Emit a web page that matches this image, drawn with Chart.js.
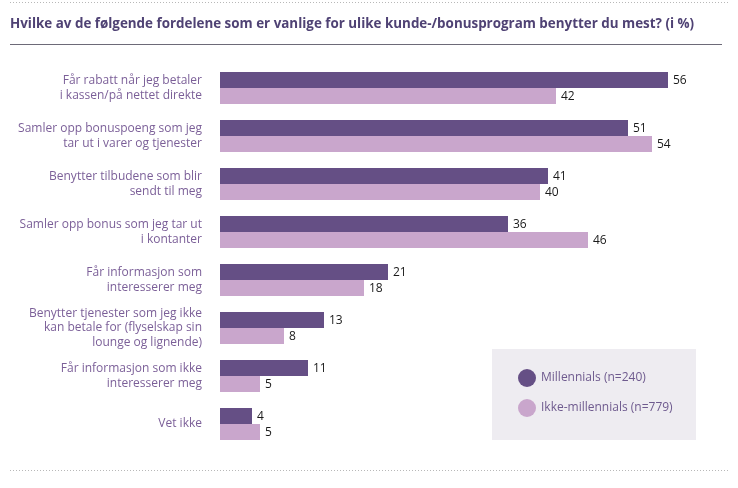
<!DOCTYPE html>
<html>
<head>
<meta charset="utf-8">
<script src="https://cdn.jsdelivr.net/npm/chart.js@4.4.0/dist/chart.umd.min.js"></script>
<style>
  html, body { margin: 0; padding: 0; background: #fff; }
  #wrap { position: relative; width: 738px; height: 488px; }
</style>
</head>
<body>
<div id="wrap"><canvas id="chart" width="738" height="488"></canvas></div>
<script>
// Data
const categories = [
    ['Får rabatt når jeg betaler', 'i kassen/på nettet direkte'],
    ['Samler opp bonuspoeng som jeg', 'tar ut i varer og tjenester'],
    ['Benytter tilbudene som blir', 'sendt til meg'],
    ['Samler opp bonus som jeg tar ut', 'i kontanter'],
    ['Får informasjon som', 'interesserer meg'],
    ['Benytter tjenester som jeg ikke', 'kan betale for (flyselskap sin', 'lounge og lignende)'],
    ['Får informasjon som ikke', 'interesserer meg'],
    'Vet ikke'
];
const millennials = [56, 51, 41, 36, 21, 13, 11, 4];
const ikkeMillennials = [42, 54, 40, 46, 18, 8, 5, 5];
const seriesNames = ['Millennials (n=240)', 'Ikke-millennials (n=779)'];
const title = 'Hvilke av de følgende fordelene som er vanlige for ulike kunde-/bonusprogram benytter du mest? (i %)';

const FONT = '"Open Sans", "DejaVu Sans", sans-serif';

// frame, title, value labels and legend box
const extras = {
    id: 'extras',
    afterDraw(chart) {
        const ctx = chart.ctx;
        ctx.save();
        // dotted lines top and bottom
        ctx.strokeStyle = '#b8b8b8';
        ctx.lineWidth = 1;
        ctx.setLineDash([1, 2]);
        ctx.beginPath();
        ctx.moveTo(10, 2.5); ctx.lineTo(728, 2.5);
        ctx.moveTo(10, 470.5); ctx.lineTo(728, 470.5);
        ctx.stroke();
        ctx.setLineDash([]);

        // title + rule
        ctx.fillStyle = '#4f4274';
        ctx.font = 'bold 13.4px ' + FONT;
        ctx.textBaseline = 'middle';
        ctx.textAlign = 'left';
        ctx.fillText(title, 10, 24);
        ctx.strokeStyle = '#6d6a78';
        ctx.beginPath();
        ctx.moveTo(10, 44.5); ctx.lineTo(722, 44.5);
        ctx.stroke();

        // value labels
        ctx.fillStyle = '#1a1a1a';
        ctx.font = '12px ' + FONT;
        chart.data.datasets.forEach((ds, i) => {
            chart.getDatasetMeta(i).data.forEach((bar, j) => {
                ctx.fillText(ds.data[j], bar.x + 5, bar.y + 1);
            });
        });

        // legend box
        ctx.fillStyle = '#eeecf1';
        ctx.fillRect(492, 349, 204, 91);
        chart.data.datasets.forEach((ds, i) => {
            const y = 378 + i * 30;
            ctx.fillStyle = ds.backgroundColor;
            ctx.beginPath();
            ctx.arc(527, y, 9, 0, Math.PI * 2);
            ctx.fill();
            ctx.fillStyle = '#6e5a8e';
            ctx.font = '12px ' + FONT;
            ctx.fillText(ds.label, 541, y);
        });
        ctx.restore();
    }
};

new Chart(document.getElementById('chart'), {
    type: 'bar',
    data: {
        labels: categories,
        datasets: [
            { label: seriesNames[0], data: millennials, backgroundColor: '#654f85' },
            { label: seriesNames[1], data: ikkeMillennials, backgroundColor: '#c9a6cc' }
        ]
    },
    options: {
        indexAxis: 'y',
        responsive: false,
        animation: false,
        layout: { padding: { top: 64, bottom: 40, left: 0, right: 38 } },
        datasets: { bar: { categoryPercentage: 0.667, barPercentage: 1 } },
        plugins: {
            legend: { display: false },
            tooltip: { enabled: false }
        },
        scales: {
            x: { display: false, min: 0, max: 60 },
            y: {
                grid: { display: false },
                border: { display: false },
                afterFit(scale) { scale.width = 220; },
                ticks: {
                    color: '#7b5f98',
                    padding: 10,
                    font: { family: FONT, size: 12, lineHeight: 1.2 }
                }
            }
        }
    },
    plugins: [extras]
});
</script>
</body>
</html>
